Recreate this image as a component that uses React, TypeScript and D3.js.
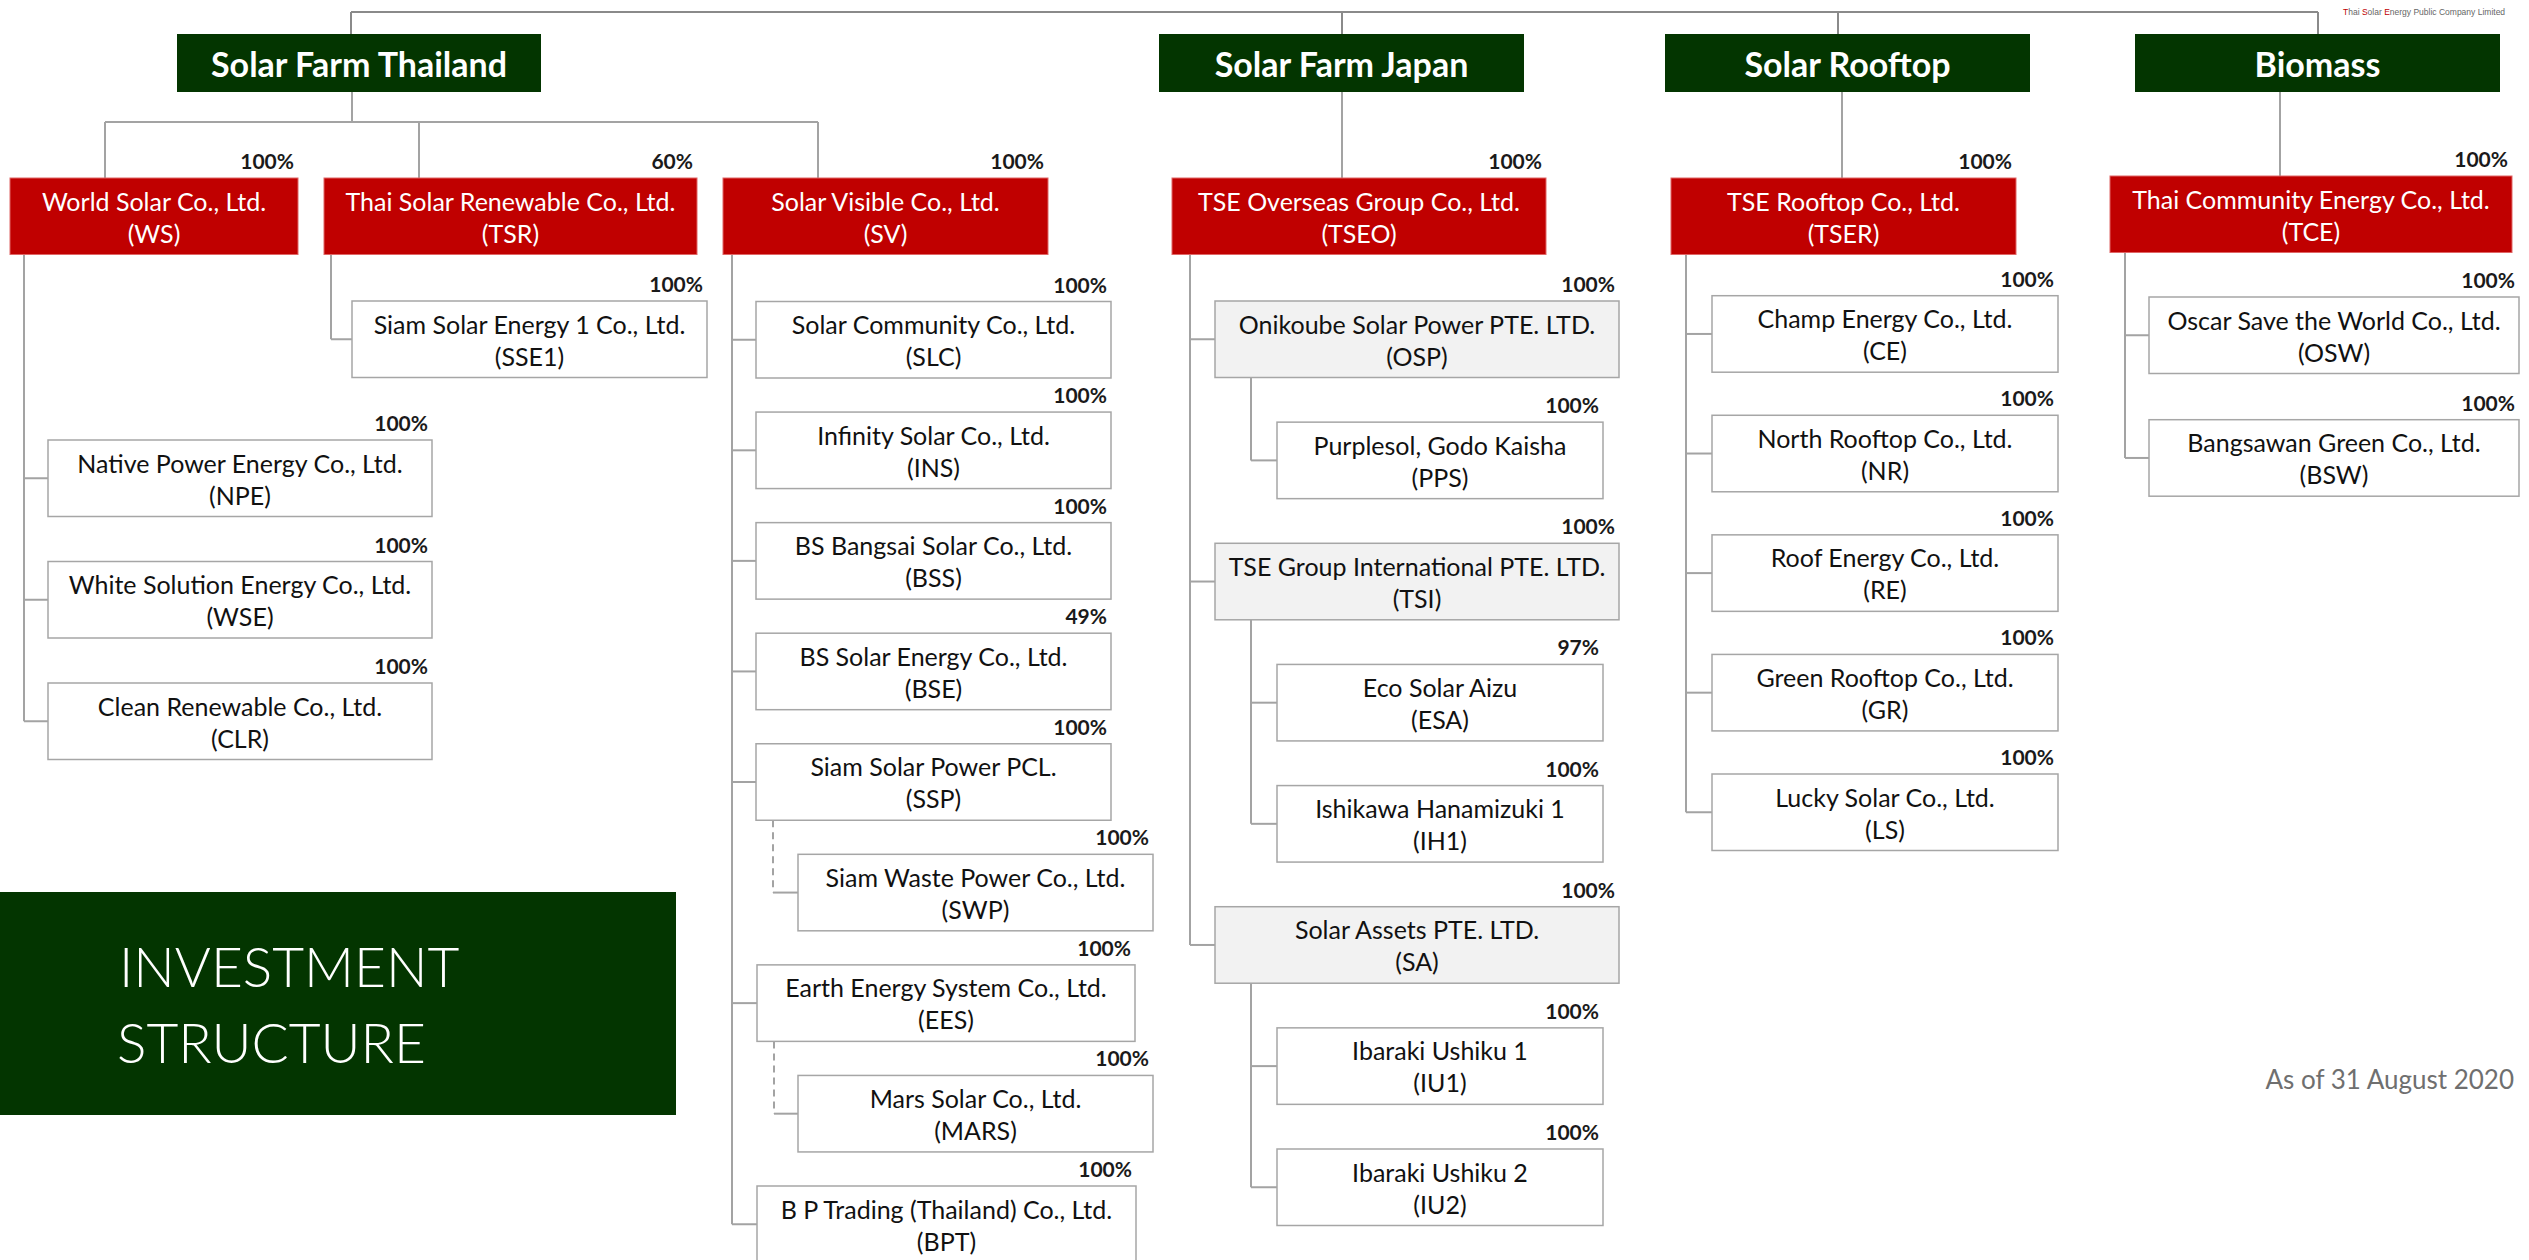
import React, { useEffect } from "react";
import * as d3 from "d3";

// ---- data ----
const sectorNames = ["Solar Farm Thailand", "Solar Farm Japan", "Solar Rooftop", "Biomass"];

const holdingNames = [
  "World Solar Co., Ltd.",
  "Thai Solar Renewable Co., Ltd.",
  "Solar Visible Co., Ltd.",
  "TSE Overseas Group Co., Ltd.",
  "TSE Rooftop Co., Ltd.",
  "Thai Community Energy Co., Ltd.",
];
const holdingCodes = ["WS", "TSR", "SV", "TSEO", "TSER", "TCE"];
const holdingShares = ["100%", "60%", "100%", "100%", "100%", "100%"];
const holdingSector = [0, 0, 0, 1, 2, 3];

const subNames = [
  "Native Power Energy Co., Ltd.",
  "White Solution Energy Co., Ltd.",
  "Clean Renewable Co., Ltd.",
  "Siam Solar Energy 1 Co., Ltd.",
  "Solar Community Co., Ltd.",
  "Infinity Solar Co., Ltd.",
  "BS Bangsai Solar Co., Ltd.",
  "BS Solar Energy Co., Ltd.",
  "Siam Solar Power PCL.",
  "Siam Waste Power Co., Ltd.",
  "Earth Energy System Co., Ltd.",
  "Mars Solar Co., Ltd.",
  "B P Trading (Thailand) Co., Ltd.",
  "Onikoube Solar Power PTE. LTD.",
  "Purplesol, Godo Kaisha",
  "TSE Group International PTE. LTD.",
  "Eco Solar Aizu",
  "Ishikawa Hanamizuki 1",
  "Solar Assets PTE. LTD.",
  "Ibaraki Ushiku 1",
  "Ibaraki Ushiku 2",
  "Champ Energy Co., Ltd.",
  "North Rooftop Co., Ltd.",
  "Roof Energy Co., Ltd.",
  "Green Rooftop Co., Ltd.",
  "Lucky Solar Co., Ltd.",
  "Oscar Save the World Co., Ltd.",
  "Bangsawan Green Co., Ltd.",
];
const subCodes = [
  "NPE", "WSE", "CLR", "SSE1", "SLC", "INS", "BSS", "BSE", "SSP", "SWP", "EES", "MARS", "BPT",
  "OSP", "PPS", "TSI", "ESA", "IH1", "SA", "IU1", "IU2", "CE", "NR", "RE", "GR", "LS", "OSW", "BSW",
];
const subShares = [
  "100%", "100%", "100%", "100%", "100%", "100%", "100%", "49%", "100%", "100%", "100%", "100%", "100%",
  "100%", "100%", "100%", "97%", "100%", "100%", "100%", "100%", "100%", "100%", "100%", "100%", "100%", "100%", "100%",
];
const subParents = [
  "WS", "WS", "WS", "TSR", "SV", "SV", "SV", "SV", "SV", "SSP", "SV", "EES", "SV",
  "TSEO", "OSP", "TSEO", "TSI", "TSI", "TSEO", "SA", "SA", "TSER", "TSER", "TSER", "TSER", "TSER", "TCE", "TCE",
];
const dashedLinks = ["SWP", "MARS"];
const greyBoxes = ["OSP", "TSI", "SA"];

// ---- layout ----
const W = 2529;
const H = 1260;
const GREEN = "#033500";
const RED = "#C00000";
const LINE = "#a3a3a3";
const BORDER = "#a6a6a6";
const FONT = "Lato, 'Open Sans', sans-serif";

const sectorBox = [
  [177, 541], [1159, 1524], [1665, 2030], [2135, 2500],
];
const sectorDropX = [351, 1342, 1838, 2318];
const holdingBox: Record<string, number[]> = {
  WS: [10, 298], TSR: [324, 697], SV: [723, 1048],
  TSEO: [1172, 1546], TSER: [1671, 2016], TCE: [2110, 2512],
};
const holdingTopY: Record<string, number> = { TCE: 176 };
const holdingDropX: Record<string, number> = { TSEO: 1342, TSER: 1842, TCE: 2280 };

// column geometry: trunk x, level-1 box x range, level-2 box x range, row range
const columns: Record<string, any> = {
  WS: { trunk: 24, l1: [48, 432], rows: [440, 683] },
  TSR: { trunk: 331, l1: [352, 707], rows: [301, 301] },
  SV: { trunk: 732, l1: [756, 1111], l2: [798, 1153], sub: 17, rows: [301.5, 1186] },
  TSEO: { trunk: 1190, l1: [1215, 1619], l2: [1277, 1603], sub: 36, rows: [301, 1149] },
  TSER: { trunk: 1686, l1: [1712, 2058], rows: [295.7, 774] },
  TCE: { trunk: 2125, l1: [2149, 2519], rows: [297, 419.7] },
};
const widerBoxes: Record<string, number> = { EES: 1135, BPT: 1136 };
const BOX_H = 76.5;

export default function App() {
  useEffect(() => {
    document.body.style.margin = "0";
  }, []);

  // resolve which holding column a subsidiary belongs to
  const holdingOf = (code: string): string => {
    const i = subCodes.indexOf(code);
    const p = subParents[i];
    return holdingCodes.includes(p) ? p : holdingOf(p);
  };

  type Node = { code: string; name: string; share: string; parent: string; level: number; x0: number; x1: number; y: number };
  const nodes: Node[] = [];
  holdingCodes.forEach((h) => {
    const col = columns[h];
    const members = subCodes.filter((c) => holdingOf(c) === h);
    const yScale = d3.scaleLinear().domain([0, Math.max(1, members.length - 1)]).range([col.rows[0], members.length > 1 ? col.rows[1] : col.rows[0] + 100]);
    members.forEach((c, r) => {
      const i = subCodes.indexOf(c);
      const level = subParents[i] === h ? 1 : 2;
      const xr = level === 1 ? col.l1 : col.l2;
      nodes.push({
        code: c, name: subNames[i], share: subShares[i], parent: subParents[i], level,
        x0: level === 1 && widerBoxes[c] ? xr[0] + 1 : xr[0],
        x1: widerBoxes[c] ?? xr[1],
        y: yScale(r),
      });
    });
  });

  const holdings = holdingCodes.map((c, i) => ({
    code: c, name: holdingNames[i], share: holdingShares[i], sector: holdingSector[i],
    x0: holdingBox[c][0], x1: holdingBox[c][1], y: holdingTopY[c] ?? 178,
  }));

  const lines: { d: string; dashed?: boolean; color?: string }[] = [];
  const line = d3.line();
  // top bus
  lines.push({ d: line([[sectorDropX[0], 12], [sectorDropX[3], 12]])!, color: "#8a8a8a" });
  sectorDropX.forEach((x) => lines.push({ d: line([[x, 12], [x, 34]])!, color: "#8a8a8a" }));
  // Thailand fork
  const thai = holdings.filter((h) => h.sector === 0);
  const forkXs = thai.map((h) => h.x0 + 95);
  lines.push({ d: line([[352, 92], [352, 122]])! });
  lines.push({ d: line([[d3.min(forkXs)!, 122], [d3.max(forkXs)!, 122]])! });
  forkXs.forEach((x, i) => lines.push({ d: line([[x, 122], [x, thai[i].y]])! }));
  holdings.filter((h) => h.sector > 0).forEach((h) => {
    const x = holdingDropX[h.code];
    lines.push({ d: line([[x, 92], [x, h.y]])! });
  });
  // trunks and branches
  holdings.forEach((h) => {
    const col = columns[h.code];
    const kids = nodes.filter((n) => n.parent === h.code);
    const lastMid = d3.max(kids, (k) => k.y + BOX_H / 2)!;
    lines.push({ d: line([[col.trunk, h.y + BOX_H], [col.trunk, lastMid]])! });
    kids.forEach((k) => lines.push({ d: line([[col.trunk, k.y + BOX_H / 2], [k.x0, k.y + BOX_H / 2]])! }));
    kids.forEach((k) => {
      const gk = nodes.filter((n) => n.parent === k.code);
      if (!gk.length) return;
      const sx = k.x0 + col.sub;
      const dashed = gk.some((g) => dashedLinks.includes(g.code));
      const last = d3.max(gk, (g) => g.y + BOX_H / 2)!;
      lines.push({ d: line([[sx, k.y + BOX_H], [sx, last]])!, dashed });
      gk.forEach((g) => lines.push({ d: line([[sx, g.y + BOX_H / 2], [g.x0, g.y + BOX_H / 2]])! }));
    });
  });

  const boxText = (x0: number, x1: number, y: number, name: string, code: string, fill: string) => (
    <g>
      <text x={(x0 + x1) / 2} y={y + 22.5} textAnchor="middle" dominantBaseline="central" fontSize={25} fill={fill} fontFamily={FONT}>{name}</text>
      <text x={(x0 + x1) / 2} y={y + 54.5} textAnchor="middle" dominantBaseline="central" fontSize={25} fill={fill} fontFamily={FONT}>({code})</text>
    </g>
  );
  const shareText = (x1: number, y: number, share: string) => (
    <text x={x1 - 4} y={y - 9} textAnchor="end" fontSize={21} fontWeight={700} fill="#1a1a1a" fontFamily={FONT}>{share}</text>
  );

  return (
    <svg width={W} height={H} style={{ position: "absolute", left: 0, top: 0, background: "#fff" }}>
      {lines.map((l, i) => (
        <path key={i} d={l.d} fill="none" stroke={l.color ?? LINE} strokeWidth={2} strokeDasharray={l.dashed ? "7 5" : undefined} />
      ))}
      {sectorNames.map((s, i) => (
        <g key={s}>
          <rect x={sectorBox[i][0]} y={34} width={sectorBox[i][1] - sectorBox[i][0]} height={58} fill={GREEN} />
          <text x={(sectorBox[i][0] + sectorBox[i][1]) / 2} y={63} textAnchor="middle" dominantBaseline="central" fontSize={34} fontWeight={700} fill="#fff" fontFamily={FONT}>{s}</text>
        </g>
      ))}
      {holdings.map((h) => (
        <g key={h.code}>
          <rect x={h.x0} y={h.y} width={h.x1 - h.x0} height={BOX_H} fill={RED} stroke="#e06666" strokeWidth={1} />
          {boxText(h.x0, h.x1, h.y, h.name, h.code, "#fff")}
          {shareText(h.x1, h.y, h.share)}
        </g>
      ))}
      {nodes.map((n) => (
        <g key={n.code}>
          <rect x={n.x0} y={n.y} width={n.x1 - n.x0} height={BOX_H} fill={greyBoxes.includes(n.code) ? "#f2f2f2" : "#fff"} stroke={BORDER} strokeWidth={1.5} />
          {boxText(n.x0, n.x1, n.y, n.name, n.code, "#111")}
          {shareText(n.x1, n.y, n.share)}
        </g>
      ))}
      <rect x={0} y={892} width={676} height={223} fill={GREEN} />
      <text x={119} y={987} fontSize={55} fontWeight={300} fill="#fff" fontFamily={FONT}>INVESTMENT</text>
      <text x={117} y={1063} fontSize={55} fontWeight={300} fill="#fff" fontFamily={FONT}>STRUCTURE</text>
      <text x={2514} y={1089} textAnchor="end" fontSize={26} fontWeight={400} fill="#6f6f6f" fontFamily={FONT}>As of 31 August 2020</text>
      <text x={2343} y={15} fontSize={8.5} fill="#666" fontFamily="'Liberation Sans', Arial, sans-serif">
        <tspan fill={RED}>T</tspan>hai <tspan fill={RED}>S</tspan>olar <tspan fill={RED}>E</tspan>nergy Public Company Limited
      </text>
    </svg>
  );
}
